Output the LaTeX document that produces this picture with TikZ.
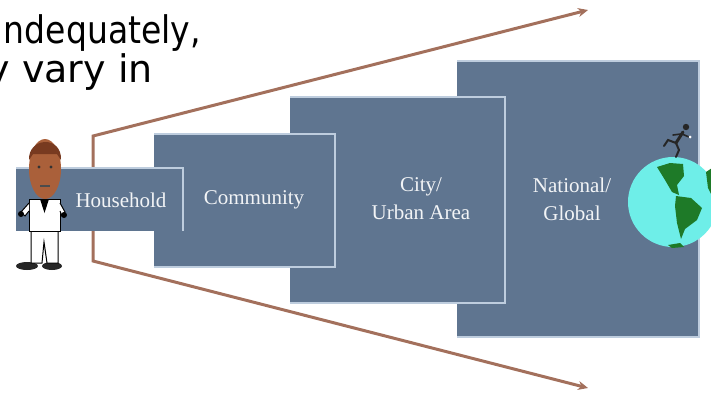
\documentclass[tikz,border=0pt]{standalone}
\usepackage{fontspec}
\setmainfont{Liberation Serif}
\newfontfamily\slidefont{DejaVu Sans}[FakeStretch=0.87]
\newfontfamily\slidewidefont{DejaVu Sans}
\usetikzlibrary{arrows.meta}

\definecolor{boxfill}{RGB}{95,117,144}
\definecolor{boxrim}{RGB}{190,205,222}
\definecolor{fanbrown}{RGB}{163,112,92}
\definecolor{skin}{RGB}{170,96,58}
\definecolor{hair}{RGB}{120,58,32}
\definecolor{sea}{RGB}{110,238,232}
\definecolor{land}{RGB}{30,122,40}

\tikzset{
  levelbox/.style={fill=boxfill, inner sep=0pt, outer sep=0pt},
  rim/.style={draw=boxrim, line width=1.3pt},
  levellabel/.style={text=white!92!boxfill, font=\fontsize{21}{28}\selectfont, align=center, inner sep=0pt},
  fan/.style={draw=fanbrown, line width=3pt, {Stealth[length=10pt,width=9pt]}-{Stealth[length=10pt,width=9pt]}},
  slide/.style={font=\slidefont\fontsize{38}{40}\selectfont, inner sep=0pt, anchor=base east}
}

\begin{document}
\begin{tikzpicture}[x=1pt,y=-1pt]
  \useasboundingbox (0,0) rectangle (711,392);
  \clip (0,0) rectangle (711,392);

  % text running off the slide
  \node[slide] (line1) at (201,43) {ndequately,};
  \node[slide, font=\slidewidefont\fontsize{38}{40}\selectfont] (line2) at (153,82) {y vary in};

  % widening fan
  \coordinate (fanTop) at (93,136);
  \coordinate (fanBot) at (93,261);
  \coordinate (tipTop) at (588,10);
  \coordinate (tipBot) at (588,388);
  \draw[fan] (tipTop) -- (fanTop) -- (fanBot) -- (tipBot);

  % levels, back to front
  \node[levelbox, minimum width=242pt, minimum height=276pt] (national) at (578,199) {};
  \draw[rim] (national.north west) -- (national.north east) -- (national.south east) -- (national.south west);
  \node[levelbox, minimum width=215pt, minimum height=206pt] (city) at (397.5,200) {};
  \draw[rim] (city.north west) -- (city.north east) -- (city.south east) -- (city.south west);
  \node[levelbox, minimum width=181pt, minimum height=133pt] (community) at (244.5,200.5) {};
  \draw[rim] (community.north west) -- (community.north east) -- (community.south east) -- (community.south west);
  \node[levelbox, minimum width=167pt, minimum height=63pt] (household) at (99.5,199.5) {};
  \draw[rim] (household.north west) -- (household.north east) -- (household.south east);

  \node[levellabel] (householdText) at (121,200) {Household};
  \node[levellabel] (communityText) at (254,200) {Community};
  \node[levellabel] (cityText) at (421,199) {City/\\Urban Area};
  \node[levellabel] (nationalText) at (572,199) {National/\\Global};

  % the person
  \fill[black!85] (27,266) ellipse [x radius=11, y radius=4];
  \fill[black!85] (52,266) ellipse [x radius=10, y radius=4];
  \draw[black, fill=white, line width=1pt] (31,230) -- (58,230) -- (58,263) -- (47,263) -- (44,242) -- (42,263) -- (31,263) -- cycle;
  \draw[black, fill=white, line width=1pt] (29,199) -- (60,199) -- (60,231) -- (29,231) -- cycle;
  \fill[black] (40,199) -- (49,199) -- (44.5,213) -- cycle;
  \draw[black, fill=white, line width=1pt] (29,203) -- (21,212) -- (25,216) -- (29,211);
  \draw[black, fill=white, line width=1pt] (60,203) -- (65,212) -- (62,216) -- (60,211);
  \fill[black] (21,214) circle (3);
  \fill[black] (64,215) circle (3);
  \fill[skin] (45,169) ellipse [x radius=16, y radius=30];
  \fill[hair] (29,160) .. controls (28,137) and (62,135) .. (61,160) -- (57,154) -- (33,154) -- cycle;
  \fill[black!80] (39,167) circle (1.6);
  \fill[black!80] (51,167) circle (1.6);
  \draw[black!70, line width=1.2pt] (40,186) -- (50,186);

  % the globe
  \fill[sea] (673,202) circle (45);
  \fill[land] (657,167) -- (670,163) -- (683,164) -- (684,176) -- (677,185) -- (679,195) -- (672,192) -- (665,180) -- cycle;
  \fill[land] (676,196) -- (691,198) -- (702,208) -- (697,220) -- (685,229) -- (681,239) -- (677,223) -- (675,206) -- cycle;
  \fill[land] (706,172) -- (712,168) -- (712,196) -- (708,188) -- cycle;
  \fill[land] (668,245) -- (680,243) -- (684,247) -- (672,248) -- cycle;

  % runner on top
  \fill[black!85] (686,127) circle (3.2);
  \draw[black!85, line width=3pt, line cap=round] (683,132) -- (676,143);
  \draw[black!85, line width=2pt, line cap=round] (676,143) -- (668,140) -- (664,146);
  \draw[black!85, line width=2pt, line cap=round] (676,143) -- (679,150) -- (676,157);
  \draw[black!85, line width=1.6pt, line cap=round] (682,134) -- (689,137);
  \draw[black!85, line width=1.6pt, line cap=round] (681,134) -- (673,135);
  \fill[white] (690,137) circle (1.5);
\end{tikzpicture}
\end{document}
